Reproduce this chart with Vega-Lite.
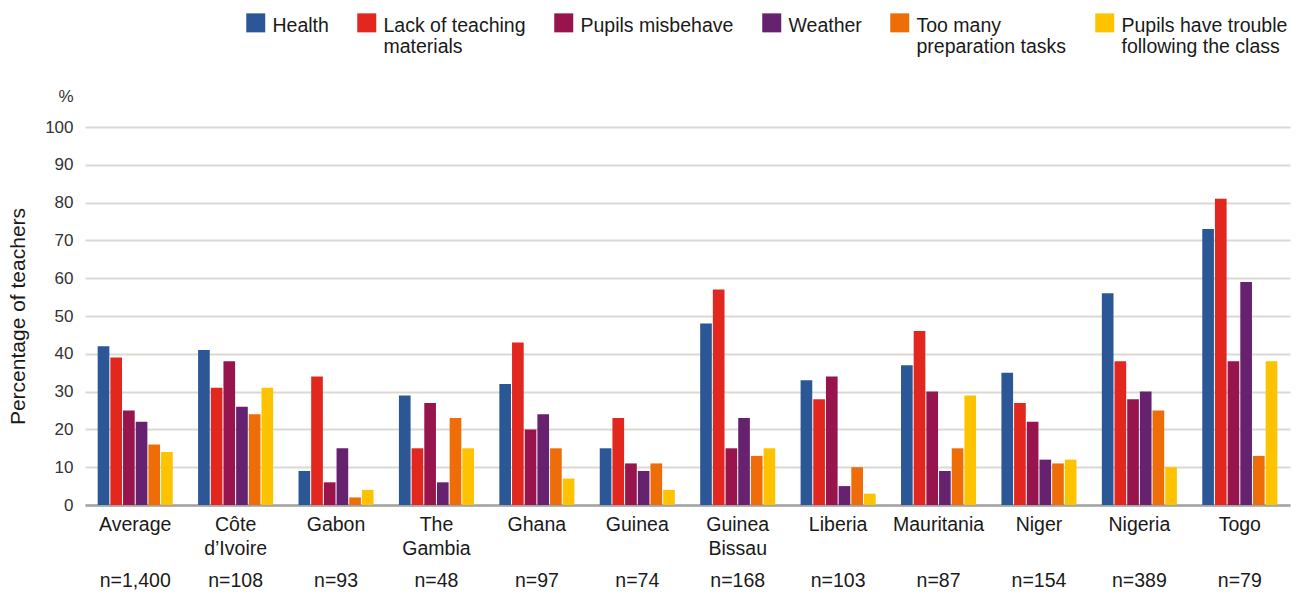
{
  "$schema": "https://vega.github.io/schema/vega-lite/v6.json",
  "width": 1205,
  "height": 378,
  "autosize": {"type": "none"},
  "padding": {"left": 85, "top": 127, "right": 14, "bottom": 89},
  "background": "white",
  "config": {"view": {"stroke": null}, "font": "Liberation Sans"},
  "data": {
    "values": [
      {"group": "Average;n=1,400", "reason": "Health", "pct": 42},
      {"group": "Average;n=1,400", "reason": "Lack of teaching materials", "pct": 39},
      {"group": "Average;n=1,400", "reason": "Pupils misbehave", "pct": 25},
      {"group": "Average;n=1,400", "reason": "Weather", "pct": 22},
      {"group": "Average;n=1,400", "reason": "Too many preparation tasks", "pct": 16},
      {"group": "Average;n=1,400", "reason": "Pupils have trouble following the class", "pct": 14},
      {"group": "Côte d’Ivoire;n=108", "reason": "Health", "pct": 41},
      {"group": "Côte d’Ivoire;n=108", "reason": "Lack of teaching materials", "pct": 31},
      {"group": "Côte d’Ivoire;n=108", "reason": "Pupils misbehave", "pct": 38},
      {"group": "Côte d’Ivoire;n=108", "reason": "Weather", "pct": 26},
      {"group": "Côte d’Ivoire;n=108", "reason": "Too many preparation tasks", "pct": 24},
      {"group": "Côte d’Ivoire;n=108", "reason": "Pupils have trouble following the class", "pct": 31},
      {"group": "Gabon;n=93", "reason": "Health", "pct": 9},
      {"group": "Gabon;n=93", "reason": "Lack of teaching materials", "pct": 34},
      {"group": "Gabon;n=93", "reason": "Pupils misbehave", "pct": 6},
      {"group": "Gabon;n=93", "reason": "Weather", "pct": 15},
      {"group": "Gabon;n=93", "reason": "Too many preparation tasks", "pct": 2},
      {"group": "Gabon;n=93", "reason": "Pupils have trouble following the class", "pct": 4},
      {"group": "The Gambia;n=48", "reason": "Health", "pct": 29},
      {"group": "The Gambia;n=48", "reason": "Lack of teaching materials", "pct": 15},
      {"group": "The Gambia;n=48", "reason": "Pupils misbehave", "pct": 27},
      {"group": "The Gambia;n=48", "reason": "Weather", "pct": 6},
      {"group": "The Gambia;n=48", "reason": "Too many preparation tasks", "pct": 23},
      {"group": "The Gambia;n=48", "reason": "Pupils have trouble following the class", "pct": 15},
      {"group": "Ghana;n=97", "reason": "Health", "pct": 32},
      {"group": "Ghana;n=97", "reason": "Lack of teaching materials", "pct": 43},
      {"group": "Ghana;n=97", "reason": "Pupils misbehave", "pct": 20},
      {"group": "Ghana;n=97", "reason": "Weather", "pct": 24},
      {"group": "Ghana;n=97", "reason": "Too many preparation tasks", "pct": 15},
      {"group": "Ghana;n=97", "reason": "Pupils have trouble following the class", "pct": 7},
      {"group": "Guinea;n=74", "reason": "Health", "pct": 15},
      {"group": "Guinea;n=74", "reason": "Lack of teaching materials", "pct": 23},
      {"group": "Guinea;n=74", "reason": "Pupils misbehave", "pct": 11},
      {"group": "Guinea;n=74", "reason": "Weather", "pct": 9},
      {"group": "Guinea;n=74", "reason": "Too many preparation tasks", "pct": 11},
      {"group": "Guinea;n=74", "reason": "Pupils have trouble following the class", "pct": 4},
      {"group": "Guinea Bissau;n=168", "reason": "Health", "pct": 48},
      {"group": "Guinea Bissau;n=168", "reason": "Lack of teaching materials", "pct": 57},
      {"group": "Guinea Bissau;n=168", "reason": "Pupils misbehave", "pct": 15},
      {"group": "Guinea Bissau;n=168", "reason": "Weather", "pct": 23},
      {"group": "Guinea Bissau;n=168", "reason": "Too many preparation tasks", "pct": 13},
      {"group": "Guinea Bissau;n=168", "reason": "Pupils have trouble following the class", "pct": 15},
      {"group": "Liberia;n=103", "reason": "Health", "pct": 33},
      {"group": "Liberia;n=103", "reason": "Lack of teaching materials", "pct": 28},
      {"group": "Liberia;n=103", "reason": "Pupils misbehave", "pct": 34},
      {"group": "Liberia;n=103", "reason": "Weather", "pct": 5},
      {"group": "Liberia;n=103", "reason": "Too many preparation tasks", "pct": 10},
      {"group": "Liberia;n=103", "reason": "Pupils have trouble following the class", "pct": 3},
      {"group": "Mauritania;n=87", "reason": "Health", "pct": 37},
      {"group": "Mauritania;n=87", "reason": "Lack of teaching materials", "pct": 46},
      {"group": "Mauritania;n=87", "reason": "Pupils misbehave", "pct": 30},
      {"group": "Mauritania;n=87", "reason": "Weather", "pct": 9},
      {"group": "Mauritania;n=87", "reason": "Too many preparation tasks", "pct": 15},
      {"group": "Mauritania;n=87", "reason": "Pupils have trouble following the class", "pct": 29},
      {"group": "Niger;n=154", "reason": "Health", "pct": 35},
      {"group": "Niger;n=154", "reason": "Lack of teaching materials", "pct": 27},
      {"group": "Niger;n=154", "reason": "Pupils misbehave", "pct": 22},
      {"group": "Niger;n=154", "reason": "Weather", "pct": 12},
      {"group": "Niger;n=154", "reason": "Too many preparation tasks", "pct": 11},
      {"group": "Niger;n=154", "reason": "Pupils have trouble following the class", "pct": 12},
      {"group": "Nigeria;n=389", "reason": "Health", "pct": 56},
      {"group": "Nigeria;n=389", "reason": "Lack of teaching materials", "pct": 38},
      {"group": "Nigeria;n=389", "reason": "Pupils misbehave", "pct": 28},
      {"group": "Nigeria;n=389", "reason": "Weather", "pct": 30},
      {"group": "Nigeria;n=389", "reason": "Too many preparation tasks", "pct": 25},
      {"group": "Nigeria;n=389", "reason": "Pupils have trouble following the class", "pct": 10},
      {"group": "Togo;n=79", "reason": "Health", "pct": 73},
      {"group": "Togo;n=79", "reason": "Lack of teaching materials", "pct": 81},
      {"group": "Togo;n=79", "reason": "Pupils misbehave", "pct": 38},
      {"group": "Togo;n=79", "reason": "Weather", "pct": 59},
      {"group": "Togo;n=79", "reason": "Too many preparation tasks", "pct": 13},
      {"group": "Togo;n=79", "reason": "Pupils have trouble following the class", "pct": 38}
    ]
  },
  "layer": [
    {
      "mark": {"type": "bar"},
      "encoding": {
        "x": {
          "field": "group", "type": "nominal", "sort": null,
          "scale": {"paddingInner": 0, "paddingOuter": 0},
          "axis": {
            "title": null, "labelAngle": 0, "labelFontSize": 19.5, "labelColor": "#1a1a1a",
            "labelLineHeight": 24, "labelPadding": 10, "ticks": false, "tickSize": 0,
            "domainColor": "#a3a3a3", "domainWidth": 2.5, "labelBaseline": "top", "grid": false,
            "labelExpr": "split(split(datum.value, ';')[0], ' ')"
          }
        },
        "xOffset": {
          "field": "reason", "type": "nominal",
          "sort": ["Health", "Lack of teaching materials", "Pupils misbehave", "Weather", "Too many preparation tasks", "Pupils have trouble following the class"],
          "scale": {"paddingInner": 0.08, "paddingOuter": 1.35}
        },
        "y": {
          "field": "pct", "type": "quantitative",
          "scale": {"domain": [0, 100]},
          "axis": {
            "title": "%", "titleAngle": 0, "titleAlign": "right", "titleBaseline": "alphabetic",
            "titleX": -12, "titleY": -26, "titleFontSize": 17, "titleFontWeight": "normal", "titleColor": "#333333",
            "values": [0, 10, 20, 30, 40, 50, 60, 70, 80, 90, 100],
            "labelFontSize": 17, "labelColor": "#333333", "labelPadding": 12,
            "ticks": false, "tickSize": 0, "domain": false,
            "gridColor": "#dcd9d4", "gridWidth": 2
          }
        },
        "color": {
          "field": "reason", "type": "nominal",
          "scale": {
            "domain": ["Health", "Lack of teaching materials", "Pupils misbehave", "Weather", "Too many preparation tasks", "Pupils have trouble following the class"],
            "range": ["#2b5797", "#e2271e", "#97144c", "#67226f", "#ee6d08", "#fdc300"]
          },
          "legend": {
            "orient": "none", "legendX": 161, "legendY": -120, "direction": "horizontal", "columns": 6,
            "title": null, "symbolType": "M-1,-0.37H1V1.63H-1Z", "symbolSize": 361, "symbolStrokeWidth": 0,
            "symbolOpacity": 1,
            "labelFontSize": 19.5, "labelColor": "#1a1a1a", "labelOffset": 7, "labelLimit": 400,
            "columnPadding": 28, "labelBaseline": "top", "padding": 0,
            "labelExpr": "datum.label == 'Lack of teaching materials' ? ['Lack of teaching', 'materials'] : datum.label == 'Too many preparation tasks' ? ['Too many', 'preparation tasks'] : datum.label == 'Pupils have trouble following the class' ? ['Pupils have trouble', 'following the class'] : [datum.label, ' ']"
          }
        }
      }
    },
    {
      "mark": {"type": "point", "opacity": 0},
      "encoding": {
        "x": {
          "field": "group", "type": "nominal", "sort": null,
          "axis": {
            "orient": "bottom", "offset": 56, "title": null, "domain": false, "ticks": false, "tickSize": 0,
            "labelPadding": 10, "labelAngle": 0, "labelFontSize": 19.5, "labelColor": "#1a1a1a",
            "labelBaseline": "top", "grid": false,
            "labelExpr": "split(datum.value, ';')[1]"
          }
        },
        "y": {
          "field": "pct", "type": "quantitative",
          "axis": {
            "orient": "left", "title": "Percentage of teachers", "labels": false, "ticks": false,
            "domain": false, "grid": false, "titleFontSize": 21, "titleFontWeight": "normal",
            "titleColor": "#1a1a1a", "titleX": -67, "titleY": 189, "titleAngle": -90,
            "titleBaseline": "middle", "titleAlign": "center"
          }
        }
      }
    }
  ],
  "resolve": {"axis": {"x": "independent", "y": "independent"}}
}
